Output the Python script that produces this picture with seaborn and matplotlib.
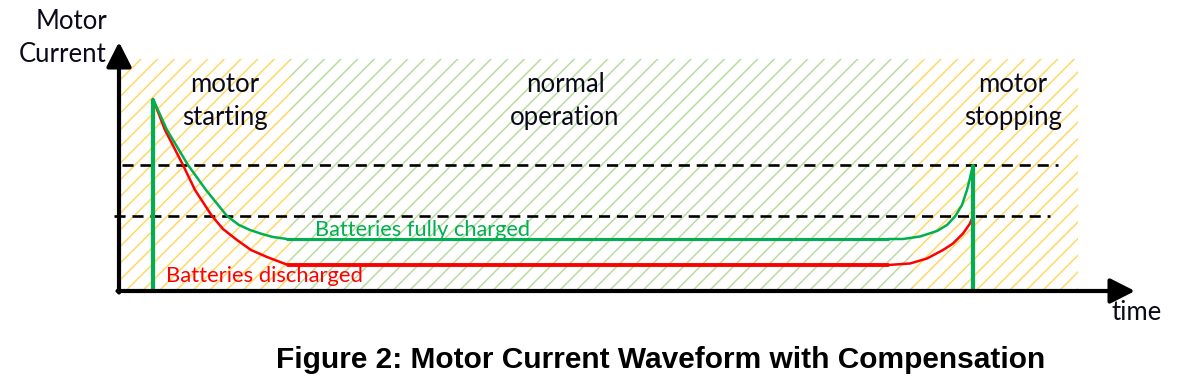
import numpy as np
import pandas as pd
import matplotlib
matplotlib.use("Agg")
import matplotlib.pyplot as plt
import seaborn as sns

sns.set_theme(style="white")
plt.rcParams['font.family'] = ['Lato', 'DejaVu Sans']
plt.rcParams['hatch.linewidth'] = 1.1

# chart units: time and current (arbitrary)
T_MAX = 101.6
I_MAX = 24.9

# shaded phases
phase_start = [0.1, 17.1, 79.4]
phase_end = [17.1, 79.4, 95.9]
phase_colors = ['#ffd966', '#b9dc9f', '#ffd966']
phase_top = 23.2
phase_labels = ['motor\nstarting', 'normal\noperation', 'motor\nstopping']
phase_label_t = [10.6, 44.6, 89.4]

# starting transient
start_t_green = [3.4, 4.8, 6.9, 8.7, 10.8, 12.0, 13.1, 14.3, 15.4, 16.8]
start_i_green = [19.2, 16.1, 12.6, 10.1, 7.5, 6.6, 6.1, 5.7, 5.4, 5.2]
start_t_red = [3.4, 4.6, 6.4, 7.6, 9.3, 10.4, 11.8, 13.2, 14.8, 16.9]
start_i_red = [19.2, 16.1, 12.6, 10.1, 7.5, 6.2, 5.1, 4.1, 3.4, 2.6]

# steady state
flat_t_green = [16.8, 76.9]
flat_i_green = [5.2, 5.2]
flat_t_red = [16.9, 76.9]
flat_i_red = [2.6, 2.6]

# stopping transient
stop_t_green = [76.9, 78.4, 80.1, 81.8, 82.8, 83.6, 84.3, 84.8, 85.1, 85.4]
stop_i_green = [5.2, 5.2, 5.45, 6.0, 6.6, 7.45, 8.6, 10.1, 11.3, 12.6]
stop_t_red = [76.9, 79.1, 80.8, 82.4, 83.4, 84.4, 85.1, 85.4]
stop_i_red = [2.6, 2.75, 3.25, 4.1, 4.75, 5.75, 6.75, 7.5]

# vertical switching edges
edge_t = [3.4, 85.4]
edge_top = [19.2, 12.6]

# threshold levels
level_i = [12.6, 7.5]
level_t0 = [0.3, -0.5]
level_t1 = [93.9, 93.1]

GREEN = '#00b050'
RED = '#ff0000'
INK = '#0a0a1a'

fig = plt.figure(figsize=(11.86, 3.91), dpi=100)
ax = fig.add_axes([119 / 1186, 100 / 391, (1135 - 119) / 1186, (291 - 42) / 391])
ax.set_xlim(0, T_MAX)
ax.set_ylim(0, I_MAX)
ax.axis('off')

# hatched phase backgrounds
for a, b, c in zip(phase_start, phase_end, phase_colors):
    ax.fill_between([a, b], 0, phase_top, facecolor='none', edgecolor=c,
                    hatch='//', linewidth=0, zorder=0)

# threshold dashed lines
for lv, a, b in zip(level_i, level_t0, level_t1):
    ax.plot([a, b], [lv, lv], color='black', lw=1.9,
            linestyle=(0, (4.2, 2.6)), zorder=2, clip_on=False)

# transients
pal = {'red': RED, 'green': GREEN}
df_start = pd.DataFrame({'t': start_t_red + start_t_green,
                         'i': start_i_red + start_i_green,
                         's': ['red'] * len(start_t_red) + ['green'] * len(start_t_green)})
sns.lineplot(data=df_start, x='t', y='i', hue='s', palette=pal,
             sort=False, lw=1.8, legend=False, ax=ax, zorder=3)
df_stop = pd.DataFrame({'t': stop_t_red + stop_t_green,
                        'i': stop_i_red + stop_i_green,
                        's': ['red'] * len(stop_t_red) + ['green'] * len(stop_t_green)})
sns.lineplot(data=df_stop, x='t', y='i', hue='s', palette=pal,
             sort=False, lw=1.8, legend=False, ax=ax, zorder=3)

# steady state
sns.lineplot(x=flat_t_green, y=flat_i_green, color=GREEN, lw=2.2, ax=ax, zorder=3)
sns.lineplot(x=flat_t_red, y=flat_i_red, color=RED, lw=2.8, ax=ax, zorder=3)

# vertical edges
for t, top in zip(edge_t, edge_top):
    ax.plot([t, t], [0, top], color=GREEN, lw=3.0, zorder=4, solid_capstyle='butt')

ax.set_xlabel('')
ax.set_ylabel('')

# axes arrows
arrow = dict(arrowstyle='-|>,head_length=0.75,head_width=0.38', color='black',
             lw=3.0, mutation_scale=20, shrinkA=0, shrinkB=0)
ax.annotate('', xy=(0, I_MAX), xytext=(0, -0.15), arrowprops=arrow, annotation_clip=False, zorder=5)
ax.annotate('', xy=(T_MAX, 0), xytext=(-0.15, 0), arrowprops=arrow, annotation_clip=False, zorder=5)

# labels
for lab, t in zip(phase_labels, phase_label_t):
    ax.text(t, 16.6, lab, ha='center', va='baseline', fontsize=18.5, color=INK,
            linespacing=1.42, zorder=6)

ax.text(-1.2, 22.9, 'Motor\nCurrent', ha='right', va='baseline', fontsize=18.5,
        color=INK, multialignment='right', linespacing=1.42, clip_on=False)
ax.text(101.75, -2.9, 'time', ha='center', va='baseline', fontsize=18.5, color=INK,
        clip_on=False)
ax.text(19.6, 5.5, 'Batteries fully charged', ha='left', va='baseline', fontsize=15.7,
        color=GREEN, zorder=6)
ax.text(4.7, 0.9, 'Batteries discharged', ha='left', va='baseline', fontsize=15.8,
        color=RED, zorder=6)

fig.text(661 / 1186, 1 - 368 / 391, 'Figure 2: Motor Current Waveform with Compensation',
         ha='center', va='baseline', fontsize=21.5, fontweight='bold',
         family=['Liberation Sans'], color='black')

fig.savefig('out.png', dpi=100)
